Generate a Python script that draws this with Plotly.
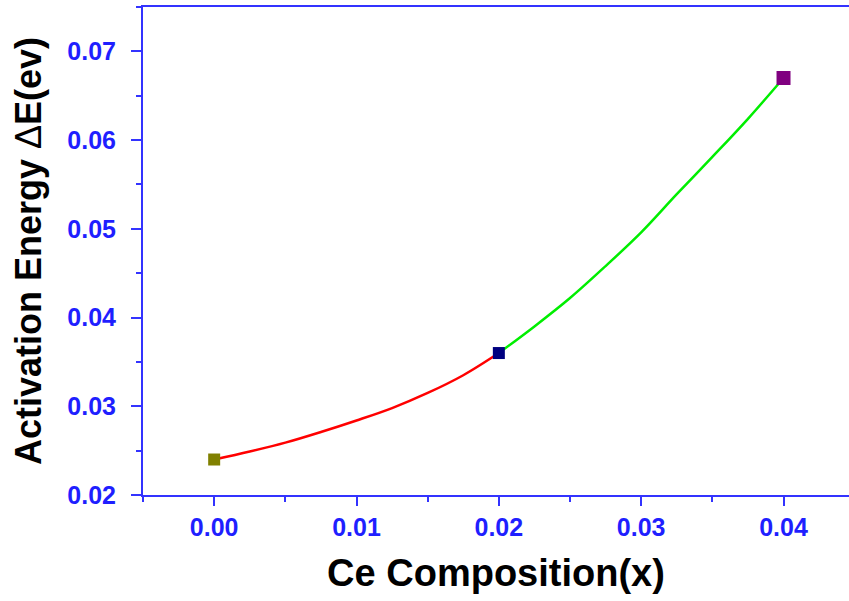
import plotly.graph_objects as go

# Data
red_x = [0.0, 0.0025, 0.005, 0.0075, 0.01, 0.0125, 0.015, 0.0175, 0.02]
red_y = [0.0240, 0.0249, 0.0259, 0.0271, 0.0284, 0.0298, 0.0315, 0.0335, 0.0360]
green_x = [0.02, 0.0225, 0.025, 0.0275, 0.03, 0.0325, 0.035, 0.0375, 0.04]
green_y = [0.0360, 0.0390, 0.0422, 0.0458, 0.0496, 0.0539, 0.0581, 0.0624, 0.0670]
pt_x = [0.0, 0.02, 0.04]
pt_y = [0.024, 0.036, 0.067]
pt_colors = ["#808000", "#000080", "#800080"]
pt_sizes = [12, 12, 14]

x_ticks = [0.0, 0.01, 0.02, 0.03, 0.04]
x_labels = ["0.00", "0.01", "0.02", "0.03", "0.04"]
y_ticks = [0.02, 0.03, 0.04, 0.05, 0.06, 0.07]
y_labels = ["0.02", "0.03", "0.04", "0.05", "0.06", "0.07"]

AX = "#3333ff"
LAB = "#1f1fff"
FONT = "Liberation Sans, Arial, sans-serif"

fig = go.Figure()
fig.add_trace(go.Scatter(x=red_x, y=red_y, mode="lines",
                         line=dict(color="#ff0000", width=2.5, shape="spline", smoothing=1),
                         showlegend=False, hoverinfo="skip"))
fig.add_trace(go.Scatter(x=green_x, y=green_y, mode="lines",
                         line=dict(color="#00ee00", width=2.5, shape="spline", smoothing=1),
                         showlegend=False, hoverinfo="skip"))
fig.add_trace(go.Scatter(x=pt_x, y=pt_y, mode="markers",
                         marker=dict(symbol="square", size=pt_sizes, color=pt_colors,
                                     opacity=1, line=dict(width=0)),
                         showlegend=False))

fig.update_layout(
    width=849, height=601,
    margin=dict(l=143, r=0, t=7, b=106),
    paper_bgcolor="white", plot_bgcolor="white",
    font=dict(family=FONT),
)
fig.update_xaxes(
    range=[-0.005, 0.0446],
    tickvals=x_ticks, ticktext=x_labels,
    ticks="outside", ticklen=9, tickwidth=2, tickcolor=AX,
    minor=dict(dtick=0.005, tick0=0, ticks="outside", ticklen=5, tickwidth=2, tickcolor=AX),
    showline=True, linecolor=AX, linewidth=2, mirror=True,
    showgrid=False, zeroline=False,
    ticklabelstandoff=0,
    tickfont=dict(family=FONT, size=25, color=LAB, weight="bold"),
    title=dict(text="Ce Composition(x)", font=dict(family=FONT, size=38, color="black", weight="bold"),
               standoff=19),
)
fig.update_yaxes(
    range=[0.02, 0.075],
    tickvals=y_ticks, ticktext=y_labels,
    ticks="outside", ticklen=10, tickwidth=2, tickcolor=AX,
    minor=dict(dtick=0.005, tick0=0.02, ticks="outside", ticklen=5, tickwidth=2, tickcolor=AX),
    showline=True, linecolor=AX, linewidth=2, mirror=False,
    showgrid=False, zeroline=False,
    ticklabelstandoff=10,
    tickfont=dict(family=FONT, size=25, color=LAB, weight="bold"),
    title=dict(text="Activation Energy <span style=\"font-weight:normal\">\u0394</span>E(ev)",
               font=dict(family=FONT, size=36, color="black", weight="bold"),
               standoff=15),
)

fig.write_html("out.html")
